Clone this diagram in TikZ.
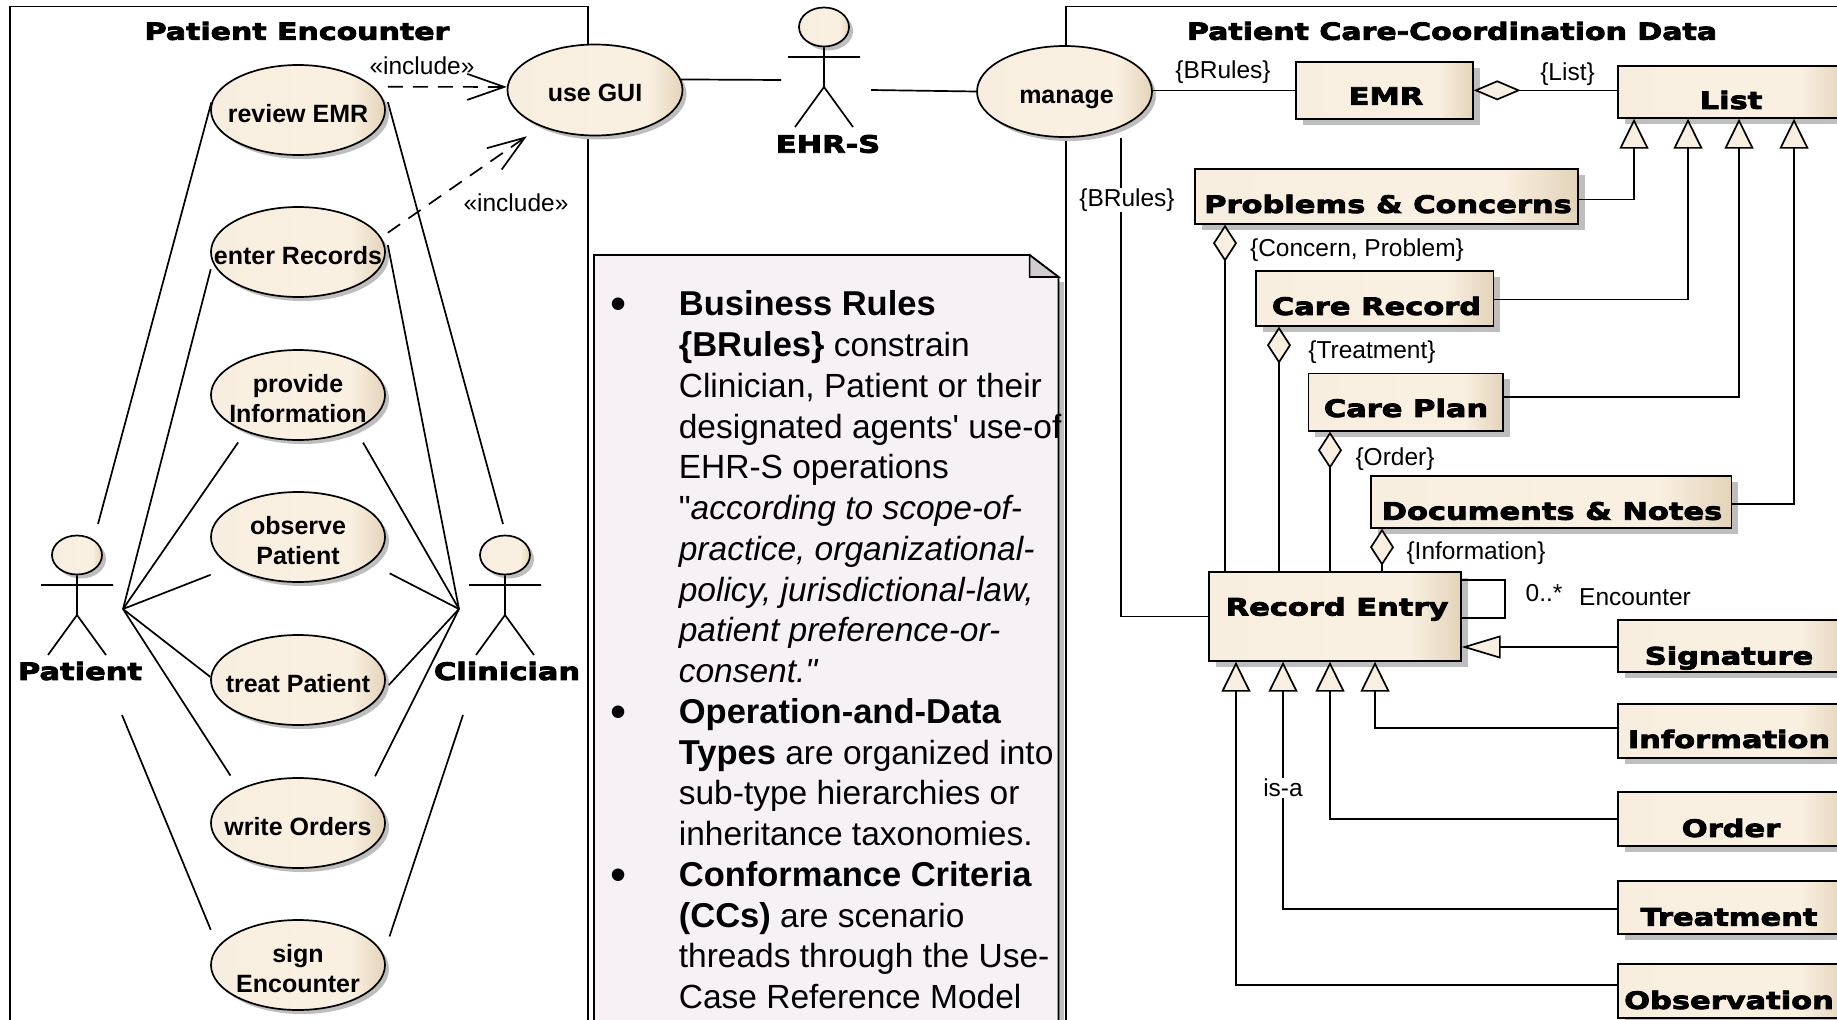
\documentclass[tikz,border=0pt]{standalone}
\usepackage{fontspec}
\setmainfont[Ligatures=TeXOff]{Liberation Sans}
\newfontfamily\blkfont[FakeStretch=1.27,BoldFeatures={FakeBold=3.5}]{DejaVu Sans}
\usetikzlibrary{arrows.meta,shapes.geometric,shadows,calc}
\definecolor{creamA}{HTML}{F7EEDF}
\definecolor{creamB}{HTML}{FAF0E1}
\definecolor{creamC}{HTML}{E3D3BA}
\definecolor{creamTip}{HTML}{F8EFE0}
\definecolor{noteFill}{HTML}{F5F1F5}
\definecolor{noteFold}{HTML}{D0CCD2}
\definecolor{shadowGray}{HTML}{BEBEBE}
\pgfdeclarehorizontalshading{creamh}{100bp}{color(0bp)=(creamA); color(25bp)=(creamA); color(55bp)=(creamB); color(65bp)=(creamB); color(75bp)=(creamC); color(100bp)=(creamC)}
\newcommand{\notebullet}{\llap{\makebox[68pt][l]{\raisebox{-4pt}{\fontsize{46}{46}\selectfont •}}}}
\newcommand{\nb}[1]{{\bfseries\fontsize{34.5}{40.75}\selectfont #1}}
\tikzset{
  x=1pt,y=-1pt,
  frame/.style={draw,anchor=north west,inner sep=0,line width=1.6pt},
  ucase/.style={ellipse,draw,shading=creamh,inner sep=-70pt,minimum width=174pt,minimum height=90pt,align=center,
     font=\bfseries\fontsize{25}{29.5}\selectfont,
     drop shadow={shadow xshift=4pt,shadow yshift=-4pt,fill=shadowGray,opacity=1}},
  umlbox/.style={rectangle,draw,shading=creamh,anchor=north west,inner sep=0,
     drop shadow={shadow xshift=7pt,shadow yshift=-6pt,fill=shadowGray,opacity=1}},
  blk/.style={font=\blkfont\bfseries\fontsize{24}{28}\selectfont,inner sep=0},
  blks/.style={blk,font=\blkfont\bfseries\fontsize{23.6}{28}\selectfont},
  lbl/.style={font=\fontsize{24.5}{28}\selectfont,inner sep=1pt},
  gaplbl/.style={lbl,fill=white},
  incl/.style={dash pattern=on 15pt off 10pt,-{Straight Barb[length=37pt,width=26pt,line width=1.7pt]}},
  gen/.style={-{Triangle[open,fill=creamTip,length=30pt,width=29pt]}},
  genh/.style={-{Triangle[open,fill=creamTip,length=39pt,width=23pt]}},
  agg/.style={{Diamond[open,fill=creamTip,length=37pt,width=24pt]}-},
  aggh/.style={{Diamond[open,fill=creamTip,length=47pt,width=20pt]}-},
  actor/.pic={
    \node[ellipse,draw,shading=creamh,inner sep=0,minimum width=50pt,minimum height=39pt,
      drop shadow={shadow xshift=4pt,shadow yshift=-4pt,fill=shadowGray,opacity=1}] (-head) at (0,0) {};
    \draw (-head.south) -- (0,60) (-36,30) -- (36,30) (-29,100) -- (0,60) -- (29,100);
  },
}
\begin{document}
\begin{tikzpicture}[line width=1.7pt]
\clip (0,0) rectangle (1837,1020);
\fill[white] (0,0) rectangle (1837,1020);

% packages
\node[frame,minimum width=578pt,minimum height=1060pt] (pe) at (9,5.5) {};
\node[frame,minimum width=900pt,minimum height=1060pt] (pc) at (1065,5.5) {};
\node[blks] (pet) at (297,31) {Patient Encounter};
\node[blks] (pct) at (1452,31) {Patient Care-Coordination Data};

% free ends of the actor associations
\coordinate (pL) at (123,609);
\coordinate (cL) at (459,609);
\coordinate (pTop) at (98,524);
\coordinate (pBot) at (122,715);
\coordinate (cTop) at (503,524);
\coordinate (cBot) at (463,715);
\coordinate (ehrL) at (781,80);
\coordinate (ehrR) at (871,90);
\coordinate (brTop) at (1121,138);

% use cases
\node[ucase] (review) at (298,110) {\rule{0pt}{25pt}review EMR};
\node[ucase] (enter) at (298,252) {\rule{0pt}{25pt}enter Records};
\node[ucase] (provide) at (298,395) {\rule{0pt}{25pt}provide\\Information};
\node[ucase] (observe) at (298,537) {\rule{0pt}{25pt}observe\\Patient};
\node[ucase] (treat) at (298,680) {\rule{0pt}{25pt}treat Patient};
\node[ucase] (write) at (298,823) {\rule{0pt}{25pt}write Orders};
\node[ucase] (sign) at (298,965) {\rule{0pt}{25pt}sign\\Encounter};
\node[ucase,minimum width=175pt,minimum height=91pt] (use) at (595,90) {\rule{0pt}{23pt}use GUI};
\node[ucase,minimum width=175pt,minimum height=91pt] (manage) at (1064.5,91.5) {\rule{0pt}{29pt}\hspace*{4pt}manage};

% actors
\pic (ehr) at (824,27) {actor};
\pic (patient) at (77,555) {actor};
\pic (clin) at (505,555) {actor};
\node[blk] (ehrt) at (828,144) {EHR-S};
\node[blk] (patt) at (80,671) {Patient};
\node[blk] (clit) at (507,671) {Clinician};

% patient associations
\draw (pTop) -- (review.175);
\draw[shorten >=7pt] (pL) -- (enter.187);
\draw[shorten >=13pt] (pL) -- (provide.215);
\draw[shorten >=22pt] (pL) -- (observe.204.7);
\draw (pL) -- (treat.178);
\draw[shorten >=16pt] (pL) -- (write.150);
\draw[shorten >=18pt] (pBot) -- (sign.167);
% clinician associations
\draw (cTop) -- ($(review.east)+(2,-8)$);
\draw (cL) -- ($(enter.east)+(2,-7)$);
\draw[shorten >=15pt] (cL) -- (provide.-31);
\draw[shorten >=22pt] (cL) -- (observe.-20);
\draw (cL) -- ($(treat.east)+(3,5)$);
\draw[shorten >=20pt] (cL) -- (write.23.5);
\draw[shorten >=19pt] (cBot) -- (sign.7.5);

% includes
\draw[incl,shorten <=14pt] (review.17) -- (use.178);
\draw[incl,shorten <=8pt,shorten >=17pt] (enter.10) -- (use.214);
\node[lbl] (inc1) at (422,66) {«include»};
\node[lbl] (inc2) at (516,203) {«include»};

% ehr links
\draw (use.7) -- (ehrL);
\draw (ehrR) -- (manage.west);

% note
\fill[shadowGray] (1058.5,282) rectangle (1063.5,1040);
\draw[fill=noteFill] (594,255) -- (1029.6,255) -- (1058.5,277) -- (1058.5,1060) -- (594,1060) -- cycle;
\draw[fill=noteFold] (1029.6,255) -- (1029.6,277) -- (1058.5,277) -- cycle;
\node[anchor=north west,inner sep=0,align=left,font=\fontsize{33.5}{40.75}\selectfont] (noteText) at (678,290)
{\notebullet\nb{Business Rules}\\
 \nb{\{BRules\}} constrain\\
 Clinician, Patient or their\\
 designated agents' use-of\\
 EHR-S operations\\
 "\textit{according to scope-of-}\\
 \textit{practice, organizational-}\\
 \textit{policy, jurisdictional-law,}\\
 \textit{patient preference-or-}\\
 \textit{consent."}\\
 \notebullet\nb{Operation-and-Data}\\
 \nb{Types} are organized into\\
 sub-type hierarchies or\\
 inheritance taxonomies.\\
 \notebullet\nb{Conformance Criteria}\\
 \nb{(CCs)} are scenario\\
 threads through the Use-\\
 Case Reference Model};

% classes
\node[umlbox,minimum width=177pt,minimum height=57pt] (emr) at (1295,61) {};
\node[umlbox,minimum width=228pt,minimum height=52pt] (list) at (1617,65) {};
\node[umlbox,minimum width=383pt,minimum height=55pt] (problems) at (1194,168) {};
\node[umlbox,minimum width=237.5pt,minimum height=55pt] (care) at (1255,270) {};
\node[umlbox,minimum width=194.5pt,minimum height=57.5pt] (plan) at (1307.5,372.5) {};
\node[umlbox,minimum width=360.5pt,minimum height=52pt] (docs) at (1370,475) {};
\node[umlbox,minimum width=252pt,minimum height=89pt] (record) at (1208,571) {};
\node[umlbox,minimum width=228pt,minimum height=52pt] (signature) at (1617,619) {};
\node[umlbox,minimum width=228pt,minimum height=54pt] (information) at (1617,703) {};
\node[umlbox,minimum width=228pt,minimum height=54pt] (order) at (1617,791) {};
\node[umlbox,minimum width=228pt,minimum height=53pt] (treatment) at (1617,880) {};
\node[umlbox,minimum width=228pt,minimum height=54pt] (observation) at (1617,963) {};

\node[blk] (emrt) at (1386,96) {EMR};
\node[blk] (listt) at (1731,100) {List};
\node[blk] (probt) at (1388,204) {Problems \& Concerns};
\node[blk] (caret) at (1376.5,306) {Care Record};
\node[blk] (plant) at (1406,408) {Care Plan};
\node[blk] (docst) at (1552,511) {Documents \& Notes};
\node[blk] (rect) at (1337,609) {Record Entry};
\node[blk] (sigt) at (1729,658) {Signature};
\node[blk] (inft) at (1729,739) {Information};
\node[blk] (ordt) at (1731,828) {Order};
\node[blk] (trtt) at (1729,917) {Treatment};
\node[blk] (obst) at (1729,1000) {Observation};

% class connectors
\draw (manage.east |- emr.west) -- (emr.west);
\draw[aggh] (emr.east) -- (list.west |- emr.east);
\draw[gen] (problems.east |- 0,199.5) -| (list.south -| 1634,0);
\draw[gen] (care.east |- 0,299.5) -| (list.south -| 1688,0);
\draw[gen] (plan.east |- 0,397) -| (list.south -| 1739,0);
\draw[gen] (docs.east |- 0,504) -| (list.south -| 1794,0);

\draw[agg] (problems.south -| 1225,0) -- (record.north -| 1225,0);
\draw[agg] (care.south -| 1279,0) -- (record.north -| 1279,0);
\draw[agg] (plan.south -| 1330,0) -- (record.north -| 1330,0);
\draw[agg] (docs.south -| 1382,0) -- (record.north -| 1382,0);

\draw (brTop) |- (record.west);
\draw (record.east |- 0,580) -- (1505,580) -- (1505,618) -- (record.east |- 0,618);
\draw[genh] (signature.west |- 0,647) -- (record.east |- 0,647);
\draw[gen] (information.west |- 0,728) -| (record.south -| 1375,0);
\draw[gen] (order.west |- 0,819) -| (record.south -| 1330,0);
\draw[gen] (treatment.west |- 0,909) -| (record.south -| 1283,0);
\draw[gen] (observation.west |- 0,985) -| (record.south -| 1236,0);

% labels on connectors
\node[lbl] (l1) at (1223,72) {\{BRules\}};
\node[lbl] (l2) at (1567.5,74) {\{List\}};
\node[gaplbl] (l3) at (1127,200) {\{BRules\}};
\node[lbl] (l4) at (1357,250) {\{Concern, Problem\}};
\node[lbl] (l5) at (1372,352) {\{Treatment\}};
\node[lbl] (l6) at (1395,459) {\{Order\}};
\node[lbl] (l7) at (1476,553) {\{Information\}};
\node[lbl] (l8) at (1544,593) {0..*};
\node[lbl] (l9) at (1635,597) {Encounter};
\node[gaplbl] (l10) at (1283,788) {is-a};
\end{tikzpicture}
\end{document}
